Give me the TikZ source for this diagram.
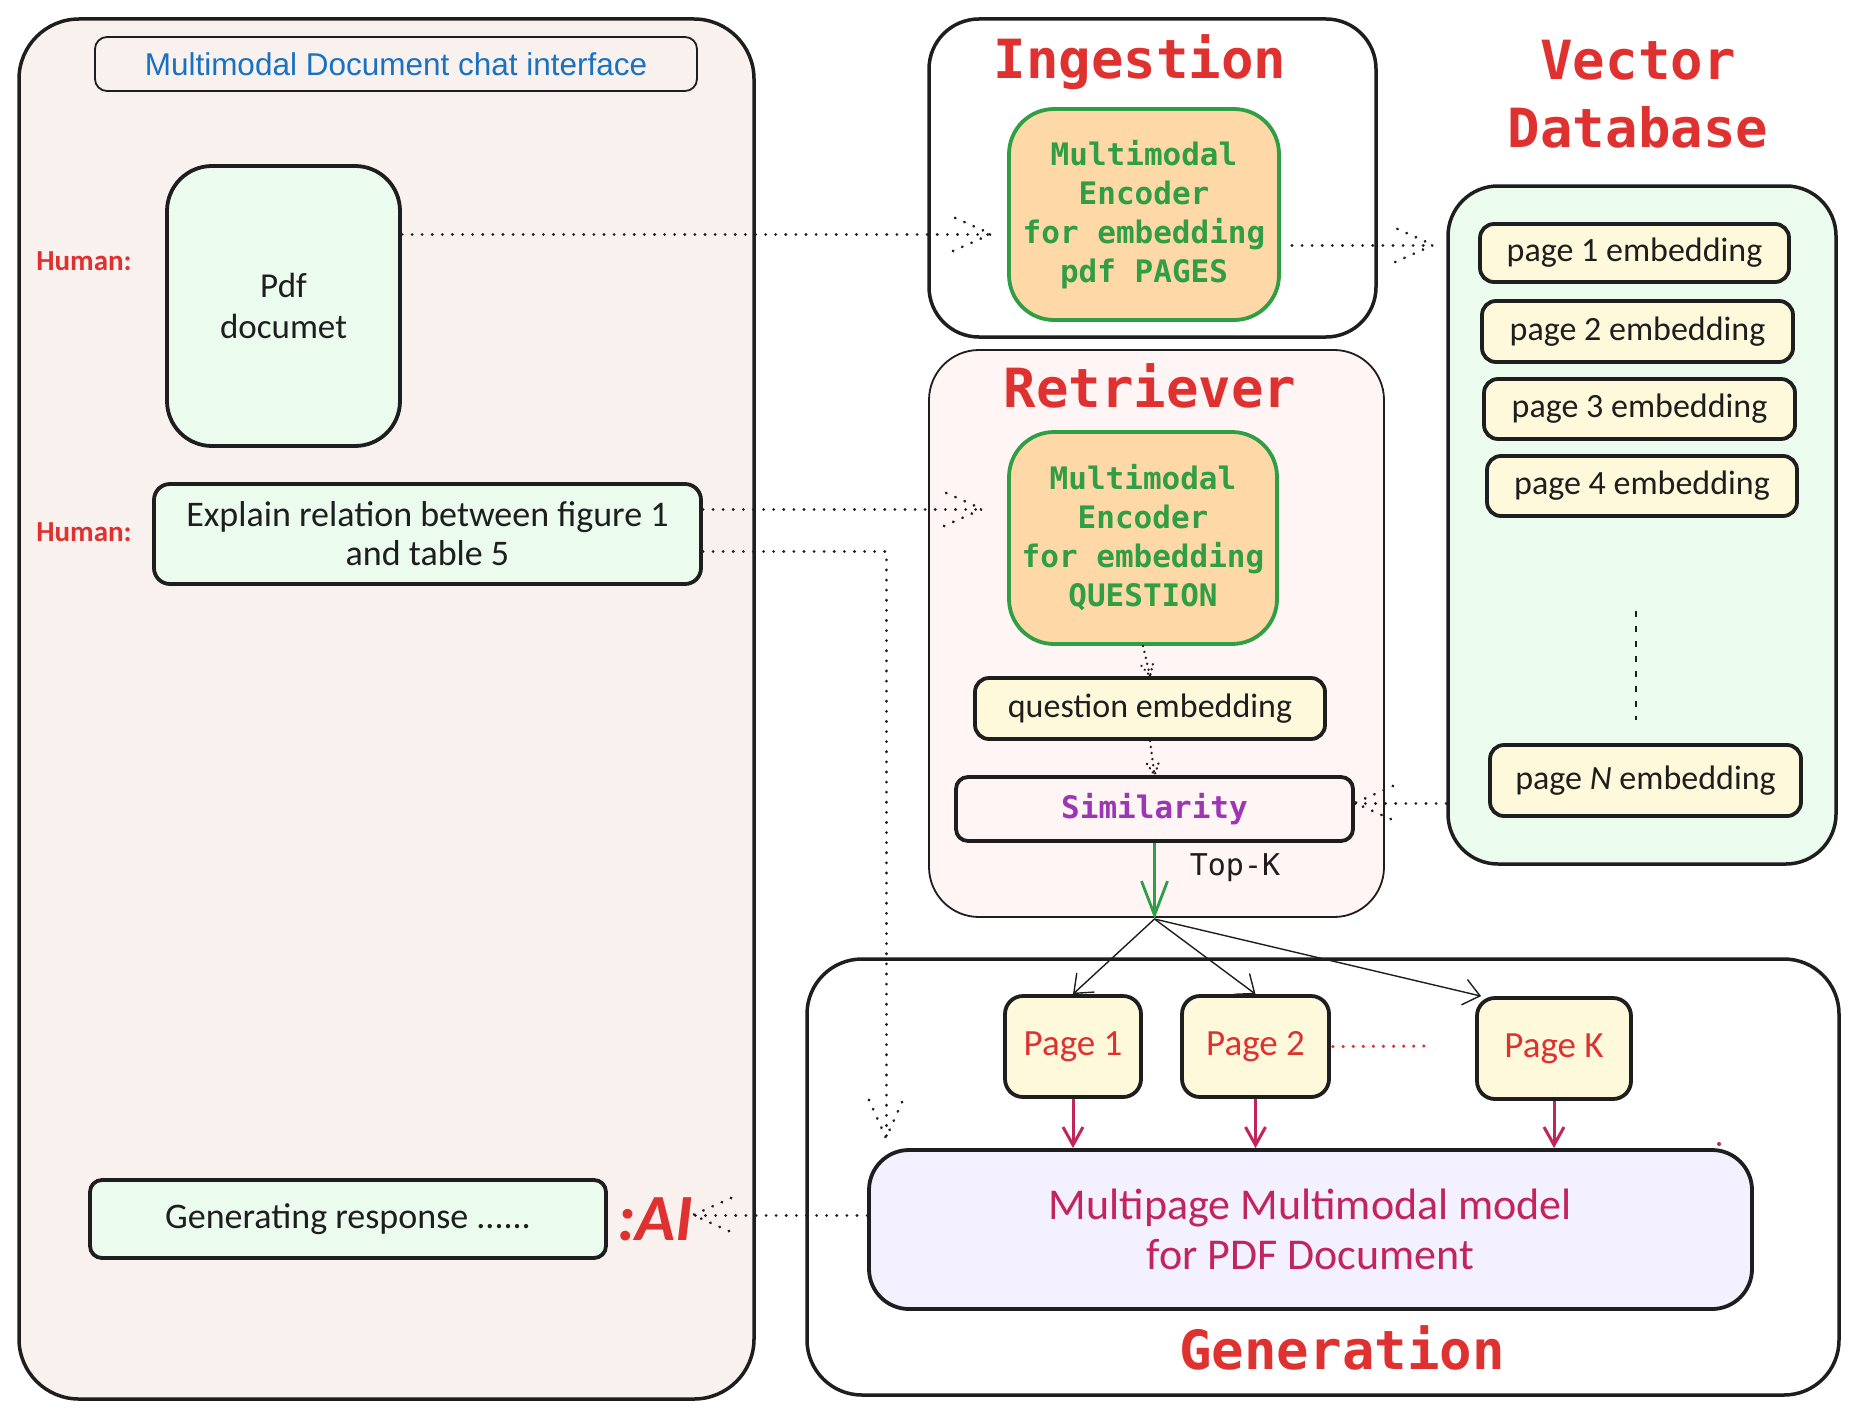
\documentclass[tikz,border=0pt]{standalone}
\usepackage{fontspec}
\usetikzlibrary{arrows.meta,decorations.markings,calc}
\newfontfamily\handf{Carlito}
\newfontfamily\monof{DejaVu Sans Mono}
\newfontfamily\helvf{Liberation Sans}
\newcommand{\setfs}[2]{\fontsize{#1}{#2}\selectfont}
\definecolor{ink}{HTML}{1E1E1E}
\definecolor{tred}{HTML}{E03131}
\definecolor{tgreen}{HTML}{2F9E44}
\definecolor{tblue}{HTML}{1971C2}
\definecolor{tpink}{HTML}{C2255C}
\definecolor{tpurple}{HTML}{9C36B5}
\definecolor{fbronze}{HTML}{F8F1EE}
\definecolor{fgreen}{HTML}{EBFBEE}
\definecolor{forange}{HTML}{FFD8A8}
\definecolor{fyellow}{HTML}{FFF9DB}
\definecolor{fpink}{HTML}{FFF5F5}
\definecolor{fviolet}{HTML}{F3F0FF}
\tikzset{
  panel/.style={draw=ink, line width=3.5pt, rounded corners=55pt, inner sep=0pt},
  card/.style={draw=ink, line width=3.8pt, rounded corners=14pt, align=center, inner sep=0pt, text=ink},
  enc/.style={draw=tgreen, fill=forange, line width=3.8pt, rounded corners=45pt, align=center, inner sep=0pt, text=tgreen, font=\monof\bfseries\setfs{31}{39}},
  embed/.style={card, fill=fyellow, font=\handf\setfs{34}{40}},
  pagebox/.style={card, fill=fyellow, rounded corners=18pt, text=tred, font=\handf\setfs{37}{44}},
  sectitle/.style={text=tred, font=\monof\bfseries\setfs{54}{68}, align=center, inner sep=0pt},
  humanlbl/.style={text=tred, font=\handf\bfseries\setfs{29}{36}, inner sep=0pt},
  dotline/.style={draw=ink, line width=3pt, dash pattern=on 0.1pt off 10pt, line cap=round},
  dotarrow/.style={dotline, postaction={decorate}, decoration={markings, mark=at position 0.9999 with {\draw[dotline] (-38pt,-17pt) -- (0,0) -- (-38pt,17pt);}}},
  dotarrowsmall/.style={dotline, line width=2.6pt, dash pattern=on 0.1pt off 6pt, postaction={decorate}, decoration={markings, mark=at position 0.9999 with {\draw[dotline, line width=2.6pt, dash pattern=on 0.1pt off 5pt] (-12pt,-6pt) -- (0,0) -- (-12pt,6pt);}}},
  thinarrow/.style={draw=ink, line width=1.4pt, -{Straight Barb[length=16pt,width=26pt]}},
  greenarrow/.style={draw=tgreen, line width=2.8pt, -{Straight Barb[length=34pt,width=26pt]}},
  pinkarrow/.style={draw=tpink, line width=3pt, -{Straight Barb[length=18pt,width=20pt]}},
  reddots/.style={draw=tred, line width=3.4pt, dash pattern=on 0.1pt off 10pt, line cap=round},
  vdots/.style={draw=ink, line width=2.4pt, dash pattern=on 6pt off 9pt},
}
\begin{document}
\begin{tikzpicture}[x=1pt,y=-1pt]
\fill[white] (0,0) rectangle (1859,1418);
\useasboundingbox (0,0) rectangle (1859,1418);

% ---------- panels ----------
\node[panel, fill=fbronze, minimum width=735pt, minimum height=1380pt, rounded corners=60pt] (chat) at (386.5,709) {};
\node[panel, fill=white, minimum width=447pt, minimum height=318pt, rounded corners=50pt] (ingest) at (1152.5,178) {};
\node[panel, fill=fpink, line width=1.8pt, minimum width=455pt, minimum height=567pt, rounded corners=50pt] (retr) at (1156.5,633.5) {};
\node[panel, fill=fgreen, minimum width=388pt, minimum height=678pt, rounded corners=50pt] (vdb) at (1642,525) {};
\node[panel, fill=white, minimum width=1032pt, minimum height=436pt, rounded corners=55pt] (gen) at (1323,1177) {};

% ---------- chat interface ----------
\node[draw=ink, line width=1.8pt, rounded corners=12pt, minimum width=602pt, minimum height=54pt, text=tblue, font=\helvf\setfs{31.5}{36}, inner sep=0pt] (ctitle) at (396,64) {Multimodal Document chat interface};
\node[humanlbl] (h1) at (84,261) {Human:};
\node[humanlbl] (h2) at (84,532) {Human:};
\node[card, fill=fgreen, rounded corners=45pt, minimum width=233pt, minimum height=280pt, font=\handf\setfs{35}{41}] (pdf) at (283.5,306) {Pdf\\documet};
\node[card, fill=fgreen, rounded corners=16pt, minimum width=547pt, minimum height=100pt, font=\handf\setfs{36}{39}] (quest) at (427.5,534) {Explain relation between figure 1\\and table 5};
\node[card, fill=fgreen, rounded corners=12pt, minimum width=516pt, minimum height=78pt, font=\handf\setfs{36}{40}] (resp) at (348,1219) {Generating response ......};
\node[text=tred, font=\handf\bfseries\itshape\setfs{66}{66}, inner sep=0pt] (ai) at (655,1219) {:AI};

% ---------- ingestion ----------
\node[sectitle, anchor=base] (tingest) at (1140,79) {Ingestion};
\node[enc, minimum width=270pt, minimum height=211pt] (enc1) at (1144,214.5) {Multimodal\\Encoder\\for embedding\\pdf PAGES};

% ---------- vector database ----------
\node[sectitle] (tvdb) at (1638,94) {Vector\\Database};
\node[embed, minimum width=309pt, minimum height=58pt] (pg1) at (1634.5,253) {page 1 embedding};
\node[embed, minimum width=311pt, minimum height=61pt] (pg2) at (1637.5,331.5) {page 2 embedding};
\node[embed, minimum width=311pt, minimum height=60pt] (pg3) at (1639.5,409) {page 3 embedding};
\node[embed, minimum width=310pt, minimum height=60pt] (pg4) at (1642,486) {page 4 embedding};
\node[embed, minimum width=311pt, minimum height=71pt] (pgN) at (1645.5,780.5) {page \textit{N} embedding};
\coordinate (vd1) at (1636,611);
\coordinate (vd2) at (1636,720);
\draw[vdots] (vd1) -- (vd2);

% ---------- retriever ----------
\node[sectitle, anchor=base] (tretr) at (1150,407) {Retriever};
\node[enc, minimum width=268pt, minimum height=212pt] (enc2) at (1143,538) {Multimodal\\Encoder\\for embedding\\QUESTION};
\node[embed, minimum width=350pt, minimum height=61pt] (qemb) at (1150,708.5) {question embedding};
\node[card, fill=fpink, rounded corners=12pt, minimum width=397pt, minimum height=64pt, text=tpurple, font=\monof\bfseries\setfs{31}{36}] (sim) at (1154.5,809) {Similarity};
\node[font=\monof\setfs{30}{36}, text=ink, inner sep=0pt] (topk) at (1235,868) {Top-K};
\coordinate (fan) at (1154.5,919);

% ---------- generation ----------
\node[sectitle, anchor=base] (tgen) at (1342,1369) {Generation};
\node[pagebox, minimum width=136pt, minimum height=101pt] (p1) at (1073,1046.5) {Page 1};
\node[pagebox, minimum width=147pt, minimum height=101pt] (p2) at (1255.5,1046.5) {Page 2};
\node[pagebox, minimum width=154pt, minimum height=101pt] (pK) at (1554,1048.5) {Page K};
\node[card, fill=fviolet, rounded corners=40pt, minimum width=883pt, minimum height=159pt, text=tpink, font=\handf\setfs{44}{50}] (model) at (1310.5,1229.5) {Multipage Multimodal model\\for PDF Document};
\fill[tpink] (1719,1144) circle (2pt);

% ---------- connectors ----------
\path ([yshift=72pt]pdf.east) coordinate (s1);
\draw[dotarrow] (s1) -- ($(s1 -| enc1.west)+(-16,0)$);
\path ([yshift=-30.5pt]enc1.east) coordinate (s2);
\draw[dotarrow] ($(s2)+(11,0)$) -- ($(s2 -| vdb.west)+(-13,0)$);
\path ([yshift=25pt]quest.east) coordinate (s3);
\draw[dotarrow] (s3) -- ($(s3 -| enc2.west)+(-25,0)$);
\path ([yshift=-17pt]quest.east) coordinate (s4);
\coordinate (c4) at (886,551);
\coordinate (e4) at (886,1138);
\draw[dotarrow] (s4) -- (c4) -- (e4);
\draw[dotarrowsmall] (enc2.south) -- (qemb.north);
\draw[dotarrowsmall] (qemb.south) -- (sim.north);
\path ([yshift=-278pt]vdb.west) coordinate (s7);
\draw[dotarrow] (s7) -- (s7 -| sim.east);
\path ([yshift=14.5pt]model.west) coordinate (s8);
\draw[dotarrow] (s8) -- (s8 -| ai.east);

\draw[greenarrow] (sim.south) -- (fan);
\draw[thinarrow] (fan) -- (p1.north);
\draw[thinarrow] (fan) -- (p2.north);
\draw[thinarrow] (fan) -- ([xshift=6pt]pK.north west);
\coordinate (dotsend) at (1426,1046);
\draw[reddots] ([xshift=2pt]p2.east) -- (dotsend);
\draw[pinkarrow] (p1.south) -- (p1.south |- model.north);
\draw[pinkarrow] (p2.south) -- (p2.south |- model.north);
\draw[pinkarrow] (pK.south) -- (pK.south |- model.north);
\end{tikzpicture}
\end{document}
